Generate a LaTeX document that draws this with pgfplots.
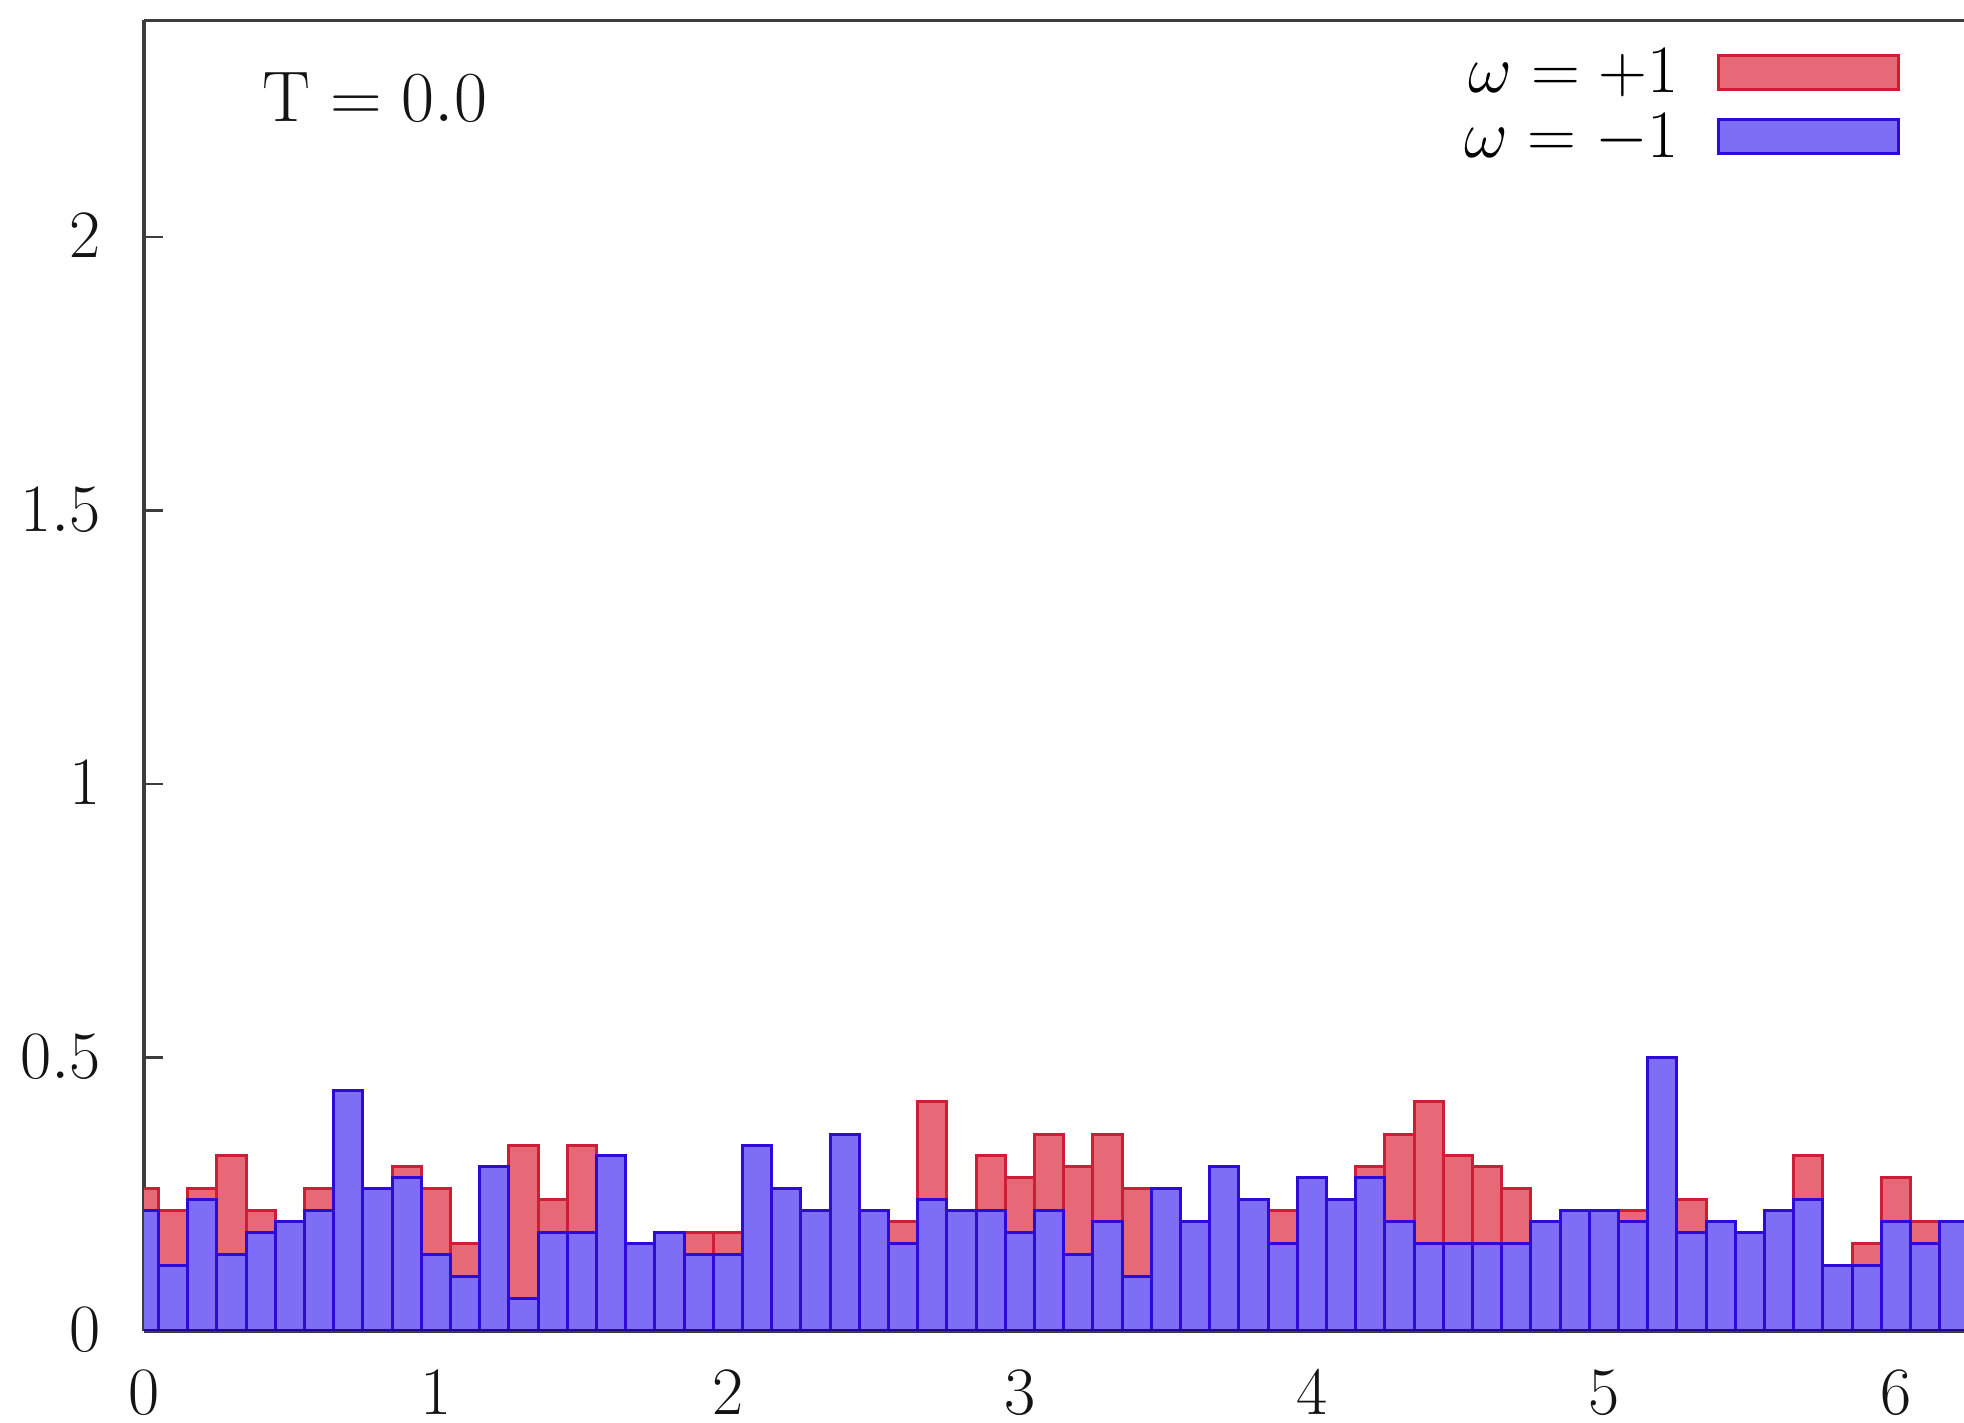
\RequirePackage{fix-cm}
\documentclass[border=0pt]{standalone}
\usepackage{pgfplots}
\usepackage{pgfplotstable}
\pgfplotsset{compat=1.18}
\definecolor{redfill}{RGB}{231,104,118}
\definecolor{redline}{RGB}{205,30,55}
\definecolor{bluefill}{RGB}{125,110,245}
\definecolor{blueline}{RGB}{45,10,215}
\definecolor{axisgray}{RGB}{60,60,60}
\pgfplotstableread{
x red blue
0.0 0.26 0.22
0.1 0.22 0.12
0.2 0.26 0.24
0.3 0.32 0.14
0.4 0.22 0.18
0.5 0.20 0.20
0.6 0.26 0.22
0.7 0.44 0.44
0.8 0.26 0.26
0.9 0.30 0.28
1.0 0.26 0.14
1.1 0.16 0.10
1.2 0.30 0.30
1.3 0.34 0.06
1.4 0.24 0.18
1.5 0.34 0.18
1.6 0.32 0.32
1.7 0.16 0.16
1.8 0.18 0.18
1.9 0.18 0.14
2.0 0.18 0.14
2.1 0.34 0.34
2.2 0.26 0.26
2.3 0.22 0.22
2.4 0.36 0.36
2.5 0.22 0.22
2.6 0.20 0.16
2.7 0.42 0.24
2.8 0.22 0.22
2.9 0.32 0.22
3.0 0.28 0.18
3.1 0.36 0.22
3.2 0.30 0.14
3.3 0.36 0.20
3.4 0.26 0.10
3.5 0.26 0.26
3.6 0.20 0.20
3.7 0.30 0.30
3.8 0.24 0.24
3.9 0.22 0.16
4.0 0.28 0.28
4.1 0.24 0.24
4.2 0.30 0.28
4.3 0.36 0.20
4.4 0.42 0.16
4.5 0.32 0.16
4.6 0.30 0.16
4.7 0.26 0.16
4.8 0.20 0.20
4.9 0.22 0.22
5.0 0.22 0.22
5.1 0.22 0.20
5.2 0.50 0.50
5.3 0.24 0.18
5.4 0.20 0.20
5.5 0.18 0.18
5.6 0.22 0.22
5.7 0.32 0.24
5.8 0.12 0.12
5.9 0.16 0.12
6.0 0.28 0.20
6.1 0.20 0.16
6.2 0.20 0.20
}\histdata
\begin{document}
\begin{tikzpicture}
\useasboundingbox (0,0) rectangle (982bp,711.5bp);
\begin{axis}[
  at={(72bp,46bp)}, anchor=south west,
  scale only axis, width=910bp, height=655.5bp,
  xmin=0, xmax=6.233, ymin=0, ymax=2.397,
  ybar, bar width=0.1, bar shift=0pt,
  xtick={0,1,2,3,4,5,6},
  ytick={0,0.5,1,1.5,2},
  tick pos=left,
  tick align=inside,
  major tick length=9.5bp,
  axis x line*=bottom,
  axis y line*=left,
  every axis plot/.append style={line width=1.5bp},
  axis line style={draw=axisgray, line width=1.7bp, -},
  tick style={draw=axisgray, line width=1.3bp},
  ticklabel style={font=\fontsize{34}{38}\selectfont, text=black!92},
  xticklabel style={yshift=-16.5bp},
  yticklabel style={xshift=-18bp, yshift=0.5bp},
  legend style={
    draw=none, fill=none,
    at={(rel axis cs:0.965,0.981)}, anchor=north east,
    font=\fontsize{34}{38}\selectfont,
    cells={anchor=east},
    legend plot pos=right,
    row sep=5bp,
    inner sep=0pt, outer sep=0pt,
  },
  legend image code/.code={
    \node[draw=none, fill=none, inner sep=0pt, minimum size=0pt] at (-18bp,0bp) {};
    \draw[#1, line width=1.5bp] (0bp,-8.5bp) rectangle (90bp,8.5bp);
  },
]
\addplot+[bar shift=0pt, fill=redfill, draw=redline] table[x=x,y=red] {\histdata};
\addlegendentry{$\omega=+1$}
\addplot+[bar shift=0pt, fill=bluefill, draw=blueline] table[x=x,y=blue] {\histdata};
\addlegendentry{$\omega=-1$}
\draw[axisgray, line width=1.7bp] (rel axis cs:0,1) -- (rel axis cs:1,1);
\draw[blueline!70!black, line width=2bp] (rel axis cs:0,0) -- (rel axis cs:1,0);
\node[anchor=center, font=\fontsize{36}{40}\selectfont, text=black!92] at (axis cs:0.79,2.256) {$\mathrm{T}=0.0$};
\end{axis}
\end{tikzpicture}
\end{document}
